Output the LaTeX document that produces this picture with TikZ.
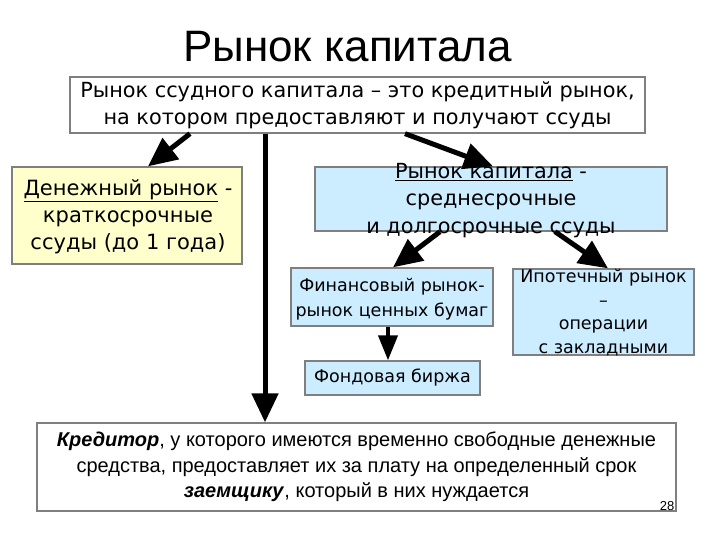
\documentclass[tikz,border=0pt]{standalone}
\usepackage{fontspec}
\setmainfont{DejaVu Sans}
\newfontfamily\arialfont{Liberation Sans}
\usetikzlibrary{arrows.meta}
\definecolor{boxyellow}{HTML}{FFFFCC}
\definecolor{boxblue}{HTML}{CCECFF}
\definecolor{boxline}{HTML}{7F7F7F}
\tikzset{
  box/.style={draw=boxline, line width=1.3pt, inner sep=0pt},
  txt/.style={align=center, inner sep=0pt},
  bigarrow/.style={line width=5pt, -{Triangle[length=29pt, width=26pt]}},
  smallarrow/.style={line width=4pt, -{Triangle[length=25pt, width=19pt]}}
}
\begin{document}
\begin{tikzpicture}[x=1pt,y=-1pt]
\useasboundingbox[fill=white] (0,0) rectangle (720,540);

% Title
\node[txt, anchor=base, font=\arialfont\fontsize{44}{50}\selectfont] (title) at (347.5,62) {Рынок капитала};

% Boxes
\node[box, fill=white, minimum width=575, minimum height=56] (loan) at (357.5,105) {};
\node[txt, font=\fontsize{20.8}{27}\selectfont] at (loan.center) {Рынок ссудного капитала – это кредитный рынок,\\на котором предоставляют и получают ссуды};

\node[box, fill=boxyellow, minimum width=230, minimum height=97] (money) at (127,215.5) {};
\node[txt, font=\fontsize{21}{27}\selectfont] at (128,217) {\underline{Денежный рынок} -\\краткосрочные\\ссуды (до 1 года)};

\node[box, fill=boxblue, minimum width=352, minimum height=64] (cap) at (491,199) {};

\node[box, fill=boxblue, minimum width=202, minimum height=58] (fin) at (392,297) {};
\node[txt, font=\fontsize{17.5}{25}\selectfont] at (392,299.5) {Финансовый рынок-\\рынок ценных бумаг};

\node[box, fill=boxblue, minimum width=181, minimum height=86] (mort) at (603.5,312) {};

\node[box, fill=boxblue, minimum width=175, minimum height=34] (stock) at (392.5,378) {};
\node[txt, font=\fontsize{17.5}{24}\selectfont] at (stock.center) {Фондовая биржа};

\node[box, fill=white, minimum width=639, minimum height=88] (lender) at (356.5,467) {};
\node[txt, font=\arialfont\fontsize{20}{25.5}\selectfont] at (356.5,467) {\textbf{\textit{Кредитор}}, у которого имеются временно свободные денежные\\средства, предоставляет их за плату на определенный срок\\\textbf{\textit{заемщику}}, который в них нуждается};
\node[txt, font=\arialfont\fontsize{13}{15}\selectfont] (page) at (667,506) {28};

% Arrows
\draw[bigarrow] ([xshift=-167.5pt]loan.south) -- ([xshift=21pt]money.north);
\draw[bigarrow] ([xshift=-92.5pt]loan.south) -- ([xshift=-91.5pt]lender.north);
\draw[bigarrow] ([xshift=47.5pt]loan.south) -- ([xshift=2pt]cap.north);
\draw[bigarrow] ([xshift=-51pt]cap.south) -- ([xshift=1pt]fin.north);
\draw[bigarrow] ([xshift=64pt]cap.south) -- ([xshift=4.5pt]mort.north);
\draw[smallarrow] ([xshift=-4pt]fin.south) -- ([xshift=-4.5pt]stock.north);

% Overflowing texts
\node[txt, font=\fontsize{20.8}{27.5}\selectfont] at (491,200.5) {\underline{Рынок капитала} -\\среднесрочные\\и долгосрочные ссуды};
\node[txt, font=\fontsize{17.5}{23.7}\selectfont] at (603.5,312.5) {Ипотечный рынок\\–\\операции\\с закладными};
\end{tikzpicture}
\end{document}
